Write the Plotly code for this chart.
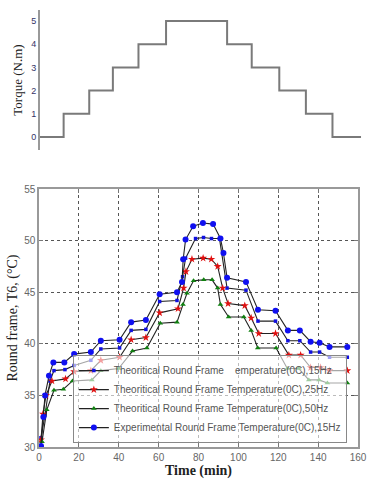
import plotly.graph_objects as go

# ---------------- data ----------------
torque_t = [0, 12, 12, 25, 25, 37, 37, 50, 50, 64, 64, 95, 95, 107.5, 107.5, 121.5, 121.5, 135, 135, 148.5, 148.5, 163]
torque_v = [0, 0, 1, 1, 2, 2, 3, 3, 4, 4, 5, 5, 4, 4, 3, 3, 2, 2, 1, 1, 0, 0]

exp_t = [1, 2.2, 3, 5, 7.2, 12.7, 17.6, 26, 31, 40.4, 46.2, 53.6, 60.5, 69.2, 71.7, 72.3, 73.5,
         77.3, 82.2, 87.3, 91, 92.5, 94.3, 103.8, 109.8, 118.6, 124.8, 130.8, 136.2, 140.7, 145.7, 154.6]
exp_T = [30.1, 32.9, 35.0, 36.9, 38.2, 38.2, 39.0, 39.2, 40.3, 40.4, 42.1, 42.3, 44.8, 45.0, 46.0, 48.2, 50.1,
         51.4, 51.7, 51.6, 50.2, 48.8, 46.4, 46.0, 43.3, 43.2, 41.3, 41.3, 40.2, 40.1, 39.7, 39.7]

t15 = [1, 3, 5.5, 7.5, 13, 17.6, 26, 31, 40.4, 46.2, 53.6, 60.5, 69.2, 72, 73.5, 78.5, 82.5, 86.5,
       90.5, 94.3, 103.8, 109.8, 118.6, 124.8, 130.8, 136.2, 140.7, 145.7, 154.6]
T15 = [30.9, 33.1, 36.4, 37.4, 37.5, 37.9, 38.4, 39.5, 39.6, 41.3, 41.4, 44.1, 44.2, 46.5, 48.3, 50.2,
       50.3, 50.2, 50.2, 45.4, 45.2, 42.2, 42.2, 40.3, 40.3, 39.2, 39.2, 38.7, 38.7]

t25 = [1, 2, 3.5, 6.5, 13.3, 17.6, 26, 31, 40.4, 46.2, 53.6, 60.5, 69.7, 72.5, 73.7, 76.7, 82.3, 86.4,
       89.6, 92.1, 94.8, 103.2, 106.4, 110.2, 118.6, 125.3, 131.2, 136.2, 141.2, 145.6, 154.6]
T25 = [30.7, 33.2, 35.0, 36.4, 36.6, 37.3, 37.4, 38.4, 38.7, 40.4, 40.6, 43.0, 43.4, 45.4, 47.0, 48.2,
       48.3, 48.2, 47.5, 45.4, 43.9, 43.7, 42.5, 41.0, 41.0, 38.9, 38.9, 37.7, 37.7, 37.4, 37.4]

t50 = [1.5, 3.9, 7.5, 12.2, 16.8, 26.5, 31, 39.9, 46.9, 54.1, 60.8, 69.2, 72.2, 74.2, 77.5, 82.6, 86.8,
       89.6, 91, 95.1, 102.7, 106.4, 109.7, 118.9, 124.5, 130.3, 135.3, 140.4, 144.6, 154.6]
T50 = [30.5, 33.6, 35.5, 35.6, 36.4, 36.5, 37.4, 37.6, 39.3, 39.6, 42.0, 42.1, 43.8, 44.9, 46.1, 46.2, 46.2,
       45.4, 43.8, 42.6, 42.6, 41.3, 39.6, 39.6, 37.6, 37.6, 36.5, 36.5, 36.2, 36.2]

names = [
    "Theoritical Round Frame    emperature(0C),15Hz",
    "Theoritical Round Frame Temperature(0C),25Hz",
    "Theoritical Round Frame Temperature(0C),50Hz",
    "Experimental Round Frame Temperature(0C),15Hz",
]

x_ticks = [0, 20, 40, 60, 80, 100, 120, 140, 160]
y_ticks = [30, 35, 40, 45, 50, 55]
torque_ticks = [0, 1, 2, 3, 4, 5]

# ---------------- figure ----------------
fig = go.Figure()

fig.add_trace(go.Scatter(x=torque_t, y=torque_v, mode="lines", xaxis="x2", yaxis="y2",
                         line=dict(color="#7a7a7a", width=2), showlegend=False))

lw = 1.1
fig.add_trace(go.Scatter(x=t15, y=T15, mode="lines+markers", name=names[0],
                         line=dict(color="#222222", width=lw),
                         marker=dict(symbol="square", size=3.5, color="#1010e0")))
fig.add_trace(go.Scatter(x=t25, y=T25, mode="lines+markers", name=names[1],
                         line=dict(color="#222222", width=lw),
                         marker=dict(symbol="star", size=6, color="#e01010")))
fig.add_trace(go.Scatter(x=t50, y=T50, mode="lines+markers", name=names[2],
                         line=dict(color="#222222", width=lw),
                         marker=dict(symbol="triangle-up", size=5, color="#108010")))
fig.add_trace(go.Scatter(x=exp_t, y=exp_T, mode="lines+markers", name=names[3],
                         line=dict(color="#222222", width=lw),
                         marker=dict(symbol="circle", size=6, color="#1010f0")))

tickfont = dict(family="Liberation Sans Narrow, Arial Narrow, Liberation Sans, sans-serif", size=10, color="#666666")
serif = "Liberation Serif, Times New Roman, serif"

fig.update_layout(
    width=368, height=479,
    margin=dict(l=0, r=0, t=0, b=0),
    paper_bgcolor="white", plot_bgcolor="white",
    showlegend=True,
    legend=dict(x=0.198, y=0.075, xanchor="left", yanchor="bottom",
                bgcolor="rgba(255,255,255,0.6)", bordercolor="#888888", borderwidth=1,
                font=dict(family="Liberation Sans Narrow, Arial Narrow, sans-serif", size=10, color="#555555"),
                tracegroupgap=0, itemwidth=30),
    xaxis=dict(domain=[0.106, 0.973], range=[0, 160], tickvals=x_ticks, ticks="inside", ticklen=4,
               tickcolor="#777777", showline=True, linecolor="#999999", linewidth=1.5, mirror="ticks",
               showgrid=True, gridcolor="#555555", griddash="dot", gridwidth=1, zeroline=False,
               tickfont=tickfont, automargin=False,
               title=dict(text="<b>Time (min)</b>", font=dict(family=serif, size=14, color="#222222"), standoff=3)),
    yaxis=dict(domain=[0.0668, 0.6054], range=[30, 55], tickvals=y_ticks, ticks="inside", ticklen=4,
               tickcolor="#777777", showline=True, linecolor="#999999", linewidth=1.5, mirror="ticks",
               showgrid=True, gridcolor="#555555", griddash="dot", gridwidth=1, zeroline=False,
               tickfont=tickfont, automargin=False,
               title=dict(text="Round frame, T6, (°C)", font=dict(family=serif, size=14, color="#222222"), standoff=3)),
    xaxis2=dict(domain=[0.1087, 0.9864], range=[0, 164], anchor="y2", visible=False),
    yaxis2=dict(domain=[0.6868, 0.979], range=[-0.56, 5.47], anchor="x2", tickvals=torque_ticks,
                showline=True, linecolor="#999999", linewidth=2, showgrid=False, zeroline=False,
                ticks="", tickfont=dict(family="Liberation Sans Narrow, Arial Narrow, sans-serif", size=9, color="#333366"),
                automargin=False,
                title=dict(text="Torque (N.m)", font=dict(family=serif, size=13, color="#222222"), standoff=6)),
)

fig.write_html("out.html")
